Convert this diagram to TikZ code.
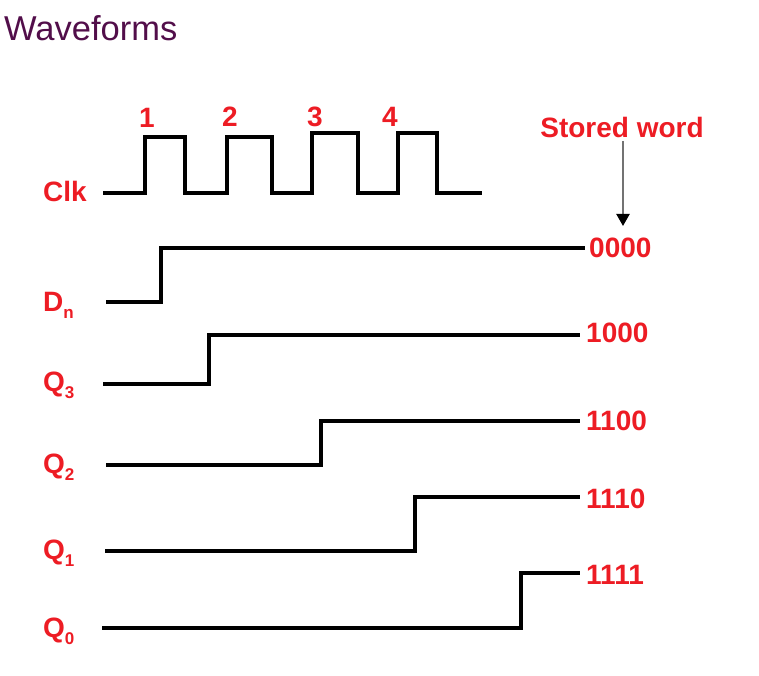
\documentclass[tikz,border=0pt]{standalone}
\usepackage{fontspec}
\setmainfont{Liberation Sans}
\usetikzlibrary{arrows.meta}
\definecolor{lblred}{RGB}{237,28,36}
\definecolor{ttlpurple}{RGB}{82,14,74}
\tikzset{
  lbl/.style={text=lblred,font=\bfseries\fontsize{28}{30}\selectfont,inner sep=0pt},
  wave/.style={line width=3.3pt,black,line join=miter},
  ptr/.style={line width=2.2pt,draw=black!55,-{Triangle[length=12pt,width=13pt,color=black,fill=black]}},
}
\newcommand{\subs}[1]{\raisebox{-0.5ex}{\fontsize{17}{17}\selectfont #1}}
\begin{document}
\begin{tikzpicture}[x=1pt,y=-1pt]
\useasboundingbox (0,0) rectangle (759,676);
% title
\node[anchor=west,text=ttlpurple,font=\fontsize{34.5}{36}\selectfont,inner sep=0pt] (title) at (4,28) {Waveforms};
% clock
\node[lbl] (clk) at (65,191) {Clk};
\draw[wave] (103,193) -- (145,193) -- (145,137) -- (185,137) -- (185,193)
  -- (227,193) -- (227,137) -- (272,137) -- (272,193)
  -- (312,193) -- (312,133) -- (358,133) -- (358,193)
  -- (398,193) -- (398,133) -- (437,133) -- (437,193) -- (482,193);
\node[lbl] (c1) at (147,118) {1};
\node[lbl] (c2) at (230,117) {2};
\node[lbl] (c3) at (315,117) {3};
\node[lbl] (c4) at (390,117) {4};
% stored word
\node[lbl] (sw) at (622,127) {Stored word};
% Dn
\node[lbl,anchor=base west] (dn) at (43,311) {D\subs{n}};
\draw[wave] (106,302) -- (161,302) -- (161,248) -- (585,248);
\node[lbl,anchor=west] (w0) at (589,248) {0000};
% Q3
\node[lbl,anchor=base west] (q3) at (43,391) {Q\subs{3}};
\draw[wave] (103,384) -- (209,384) -- (209,335) -- (580,335);
\node[lbl,anchor=west] (w1) at (586,333) {1000};
% Q2
\node[lbl,anchor=base west] (q2) at (43,473) {Q\subs{2}};
\draw[wave] (106,465) -- (321,465) -- (321,421) -- (580,421);
\node[lbl,anchor=west] (w2) at (586,421) {1100};
% Q1
\node[lbl,anchor=base west] (q1) at (43,559) {Q\subs{1}};
\draw[wave] (105,551) -- (415,551) -- (415,497) -- (580,497);
\node[lbl,anchor=west] (w3) at (586,499) {1110};
% Q0
\node[lbl,anchor=base west] (q0) at (43,637) {Q\subs{0}};
\draw[wave] (102,628) -- (521,628) -- (521,573) -- (580,573);
\node[lbl,anchor=west] (w4) at (586,575) {1111};
% pointer
\coordinate (ps) at (623,141);
\coordinate (pe) at (623,226);
\draw[ptr] (ps) -- (pe);
\end{tikzpicture}
\end{document}
